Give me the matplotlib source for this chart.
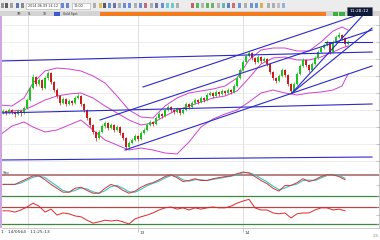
import matplotlib
matplotlib.use("Agg")
import matplotlib.pyplot as plt
from matplotlib.patches import Rectangle
from matplotlib.transforms import blended_transform_factory

# ---------------- data ----------------
opens = [58, 59, 57, 60, 58, 56, 59, 57, 62, 70, 82, 93, 86, 90, 82, 92, 97, 88, 80, 74,
         67, 71, 66, 69, 67, 72, 74, 66, 60, 52, 45, 38, 32, 38, 44, 47, 42, 45, 40, 43,
         37, 32, 23, 27, 30, 34, 31, 37, 40, 45, 48, 46, 52, 56, 54, 60, 63, 60, 58, 61,
         57, 60, 66, 63, 67, 70, 68, 72, 70, 75, 77, 74, 78, 76, 79, 77, 80, 78, 84, 92,
         100, 108, 114, 117, 112, 108, 113, 109, 111, 106, 98, 92, 89, 94, 100, 95, 86, 79, 86, 96,
         104, 110, 105, 100, 106, 112, 118, 122, 125, 127, 118, 128, 133, 135, 132, 126]
highs = [61, 60, 62, 61, 59, 61, 60, 64, 72, 84, 96, 94, 92, 91, 94, 99, 98, 89, 82, 75,
         73, 72, 71, 70, 74, 77, 75, 67, 61, 53, 46, 39, 40, 46, 49, 48, 47, 46, 45, 44,
         38, 33, 29, 32, 36, 35, 39, 42, 47, 50, 49, 54, 58, 57, 62, 65, 64, 61, 63, 62,
         62, 68, 67, 69, 72, 71, 74, 73, 77, 79, 78, 80, 79, 81, 80, 82, 81, 86, 94, 102,
         110, 116, 119, 118, 113, 115, 114, 113, 112, 107, 99, 93, 96, 102, 101, 96, 87, 88, 98, 106,
         112, 111, 106, 108, 114, 120, 124, 127, 130, 128, 130, 135, 138, 136, 133, 130]
lows = [56, 55, 56, 56, 53, 55, 54, 56, 61, 69, 81, 84, 84, 80, 81, 90, 86, 78, 72, 65,
        66, 64, 65, 65, 66, 71, 64, 58, 50, 43, 36, 29, 31, 37, 42, 40, 41, 38, 39, 35,
        30, 20, 21, 26, 29, 29, 30, 36, 39, 44, 44, 45, 51, 52, 53, 59, 58, 56, 57, 55,
        56, 59, 61, 62, 66, 66, 67, 68, 69, 74, 72, 73, 74, 75, 75, 76, 76, 77, 83, 91,
        99, 107, 113, 110, 106, 107, 107, 108, 104, 96, 90, 87, 88, 93, 93, 84, 77, 78, 85, 95,
        103, 103, 98, 99, 105, 111, 117, 121, 124, 116, 117, 127, 132, 130, 124, 125]
closes = [59, 57, 60, 58, 56, 59, 57, 62, 70, 82, 93, 86, 90, 82, 92, 97, 88, 80, 74, 67,
          71, 66, 69, 67, 72, 74, 66, 60, 52, 45, 38, 32, 38, 44, 47, 42, 45, 40, 43, 37,
          32, 23, 27, 30, 34, 31, 37, 40, 45, 48, 46, 52, 56, 54, 60, 63, 60, 58, 61, 57,
          60, 66, 63, 67, 70, 68, 72, 70, 75, 77, 74, 78, 76, 79, 77, 80, 78, 84, 92, 100,
          108, 114, 117, 112, 108, 113, 109, 111, 106, 98, 92, 89, 94, 100, 95, 86, 79, 86, 96, 104,
          110, 105, 100, 106, 112, 118, 122, 125, 127, 118, 128, 133, 135, 132, 126, 128]

band_bars = [-1, 3, 7, 10, 14, 18, 22, 26, 30, 34, 38, 42, 46, 50, 54, 58, 62, 66, 70, 74,
             78, 82, 86, 90, 94, 98, 102, 106, 110, 113, 115]
band_upper = [65, 64, 72, 87, 99, 102, 101, 99, 94, 87, 74, 60, 53, 52, 64, 72, 77, 79, 81, 84,
              92, 110, 120, 122, 122, 119, 119, 128, 139, 143, 140]
band_middle = [57, 59, 60, 64, 70, 74, 76, 77, 72, 64, 57, 50, 45, 47, 54, 60, 64, 68, 72, 74,
               79, 92, 106, 112, 113, 110, 110, 113, 118, 122, 124]
band_lower = [35, 44, 48, 43, 38, 40, 45, 50, 40, 30, 25, 20, 22, 20, 17, 16, 28, 43, 51, 56,
              60, 68, 77, 80, 77, 75, 77, 78, 80, 84, 96]

trend_start_bar = [-1, -1, -1, 40.67, 46.67, 32.33, 107.33, 96.33, 96.33]
trend_start_price = [109, 57, 10, 20, 83, 50, 128, 77, 77]
trend_end_bar = [123, 123, 123, 123, 117.33, 123, 123, 120.67, 123]
trend_end_price = [118, 66, 13, 104, 154, 140, 128, 157, 142]

period_bars = [8.33, 45, 80]
period_labels = ['', '13', '14']
price_grid = [9, 26, 43, 60, 77, 94, 111, 128, 145]

osc_bars = list(range(0, 116, 2))
stoch_k = [53, 53, 53, 61, 69, 77, 77, 66, 53, 42, 31, 31, 42, 45, 36, 28, 28, 42, 53, 47,
           36, 28, 34, 45, 53, 58, 66, 75, 80, 72, 61, 64, 69, 64, 64, 69, 72, 75, 77, 83,
           88, 85, 75, 64, 55, 42, 34, 50, 50, 58, 69, 61, 66, 75, 80, 80, 75, 66]
stoch_d = [53, 53, 53, 57, 65, 73, 77, 72, 60, 48, 36, 31, 36, 43, 40, 32, 28, 35, 47, 50,
           42, 32, 31, 39, 49, 56, 62, 71, 78, 76, 66, 62, 66, 66, 64, 67, 70, 73, 76, 80,
           86, 86, 80, 70, 60, 48, 38, 43, 50, 54, 64, 65, 64, 71, 78, 80, 78, 70]
stoch_levels = [80, 20]
rsi = [61, 61, 58, 63, 70, 79, 72, 58, 65, 51, 56, 54, 49, 47, 39, 32, 35, 39, 37, 39,
       35, 30, 42, 47, 51, 56, 63, 68, 70, 65, 68, 63, 68, 65, 68, 70, 68, 68, 72, 79,
       84, 88, 68, 63, 63, 56, 54, 56, 44, 54, 56, 56, 63, 68, 68, 63, 65, 61]
rsi_levels = [70, 30]

# ---------------- figure ----------------
W, H = 380, 240
fig = plt.figure(figsize=(3.8, 2.4), dpi=100)
fig.patch.set_facecolor('white')


def px_axes(x0, y0, x1, y1):
    return fig.add_axes([x0 / W, 1 - y1 / H, (x1 - x0) / W, (y1 - y0) / H])


XL = (-1 / 3, 125.33)
GRID = '#dadada'
UP, DN = '#1ec41e', '#c81e1e'
BLUE = '#2a2ac8'
MAG = '#d040d0'


def style_panel(ax, yl):
    ax.set_xlim(*XL)
    ax.set_ylim(*yl)
    ax.set_facecolor('white')
    for s in ('left', 'top'):
        ax.spines[s].set_visible(False)
    ax.spines['right'].set_color('#b4b4b4')
    ax.spines['right'].set_linewidth(0.5)
    ax.spines['bottom'].set_color('#c8dcc8')
    ax.spines['bottom'].set_linewidth(0.6)
    ax.yaxis.tick_right()
    ax.tick_params(axis='y', direction='in', length=2, width=0.4, colors='#9a9a9a',
                   labelright=False, labelleft=False)
    ax.set_xticks([])
    for b in period_bars:
        ax.axvline(b, color=GRID, lw=0.6, zorder=0)


# main price panel
ax = px_axes(2, 16, 379, 169)
style_panel(ax, (1, 154))
ax.set_yticks(price_grid)
for g in price_grid:
    ax.axhline(g, color='#e6e6e6', lw=0.5, zorder=0)

for i, (o, h, l, c) in enumerate(zip(opens, highs, lows, closes)):
    col = UP if c >= o else DN
    ax.vlines(i, l, h, color=col, lw=0.5, zorder=3)
    ax.bar(i, max(abs(c - o), 0.6), bottom=min(o, c), width=0.6, color=col,
           linewidth=0, zorder=3)

for band in (band_upper, band_middle, band_lower):
    ax.plot(band_bars, band, color=MAG, lw=0.7, zorder=2)

for x0, y0, x1, y1 in zip(trend_start_bar, trend_start_price, trend_end_bar, trend_end_price):
    ax.plot([x0, x1], [y0, y1], color=BLUE, lw=0.8, zorder=4)

# stochastic panel
ax2 = px_axes(2, 169, 379, 199)
style_panel(ax2, (11.8, 96.4))
ax2.set_yticks([20, 50, 80])
ax2.axhline(stoch_levels[0], color='#b07878', lw=1.3, zorder=1)
ax2.axhline(stoch_levels[1], color='#3a8c3a', lw=0.9, zorder=1)
ax2.plot(osc_bars, stoch_d, color='#38c4c4', lw=0.8, zorder=2)
ax2.plot(osc_bars, stoch_k, color='#d03838', lw=0.7, zorder=3)
ax2.text(0.003, 0.93, 'Sto', transform=ax2.transAxes, fontsize=3, color='#333333',
         va='top', ha='left')

# second oscillator panel
ax3 = px_axes(2, 199, 379, 228)
style_panel(ax3, (20.6, 88.8))
ax3.set_yticks([30, 50, 70])
ax3.spines['bottom'].set_color('#c4c4c4')
ax3.axhline(rsi_levels[0], color='#b04848', lw=0.9, zorder=1)
ax3.axhline(rsi_levels[1], color='#3a8c3a', lw=0.9, zorder=1)
ax3.plot(osc_bars, rsi, color='#e02828', lw=0.7, zorder=2)
ax3.set_xticks(period_bars[1:])
ax3.set_xticklabels([])
ax3.tick_params(axis='x', direction='out', length=3, width=0.4, colors='#9a9a9a')
tr = blended_transform_factory(ax3.transData, ax3.transAxes)
for b, lab in zip(period_bars, period_labels):
    if lab:
        ax3.text(b + 0.4, -0.1, lab, transform=tr, fontsize=3.2, color='#444444',
                 ha='left', va='top')

# ---------------- window chrome ----------------
hdr = px_axes(0, 0, 380, 16)
hdr.set_xlim(0, 380)
hdr.set_ylim(16, 0)
hdr.axis('off')
hdr.add_patch(Rectangle((0, 0), 380, 11, facecolor='#ececec', edgecolor='none'))
hdr.add_patch(Rectangle((0, 11), 380, 5, facecolor='#d4d4d4', edgecolor='none'))
hdr.add_patch(Rectangle((100, 11.6), 226, 4.4, facecolor='#f47c20', edgecolor='none'))
icons = [(1, '#7a7a7a'), (5, '#333333'), (10, '#8a8a8a'), (16, '#2f4f9f'), (21, '#6a6a6a'),
         (61, '#3a66cc'), (66, '#3a66cc'), (93, '#9a9a9a'), (99, '#d8b020'), (103, '#2a2a2a'),
         (108, '#3b6fd0'), (113, '#4a4a8a'), (118, '#9a9a9a'), (123, '#3b6fd0'), (128, '#3b6fd0'),
         (134, '#9a9a9a'), (139, '#3b6fd0'), (144, '#b04060'), (150, '#9a9a9a'), (155, '#4a4aa0'),
         (161, '#3b6fd0'), (166, '#40c0c8'), (171, '#40c0c8'), (176, '#9a9a9a'),
         (191, '#c03030'), (196, '#30a030'), (201, '#a0a0a0'), (206, '#30a030'),
         (211, '#40a040'), (217, '#a0a0a0'), (222, '#40a0a0'), (227, '#3060c0'),
         (232, '#d04040'), (238, '#3a7ad8'), (244, '#9a9a9a'), (250, '#3a7ad8'),
         (255, '#3a7ad8'), (260, '#d0a020'), (267, '#9a9a9a'), (272, '#9a9a9a'),
         (277, '#b0b0b0'), (282, '#7aa0d8')]
for x, c in icons:
    hdr.add_patch(Rectangle((x, 3), 3.4, 4.6, facecolor=c, edgecolor='none', alpha=0.75))
hdr.add_patch(Rectangle((26, 2.5), 34, 6, facecolor='white', edgecolor='#a8a8a8', lw=0.4))
hdr.text(27.5, 5.6, '2014.06.09 14:12', fontsize=2.4, color='#333333', va='center')
hdr.add_patch(Rectangle((72, 2.5), 18, 6, facecolor='white', edgecolor='#a8a8a8', lw=0.4))
hdr.text(74, 5.6, '12:00', fontsize=2.4, color='#333333', va='center')
for x, t in [(17, '1M'), (28, '5L'), (43, '1D'), (63, 'Gold Spot')]:
    hdr.text(x, 13.9, t, fontsize=2.2, color='#333333', va='center')
hdr.add_patch(Rectangle((54, 11.8), 6, 4, facecolor='#3a5ccc', edgecolor='none'))
hdr.add_patch(Rectangle((333, 11.8), 5, 4, facecolor='#3cb03c', edgecolor='none'))
hdr.add_patch(Rectangle((339, 11.8), 6, 4, facecolor='#3cb03c', edgecolor='none'))
hdr.add_patch(Rectangle((347, 6.5), 25, 9, facecolor='#0d1a3a', edgecolor='#6a6a6a', lw=0.4))
hdr.text(359.5, 11, '11:28:12', fontsize=3.2, color='white', ha='center', va='center')

# left violet strip
strip = px_axes(0, 16, 2, 228)
strip.axis('off')
strip.add_patch(Rectangle((0, 0), 1, 1, transform=strip.transAxes,
                          facecolor='#cfa6e0', edgecolor='none'))

# status line
fig.text(1 / W, 1 - 232 / H, '1 \u00b7 14/0564 \u00b7 11:25:13', fontsize=3.2,
         color='#333333', ha='left', va='center')
fig.text(378 / W, 1 - 236 / H, '2/4', fontsize=2.6, color='#888888', ha='right', va='center')

fig.savefig('out.png', dpi=100, facecolor='white')
